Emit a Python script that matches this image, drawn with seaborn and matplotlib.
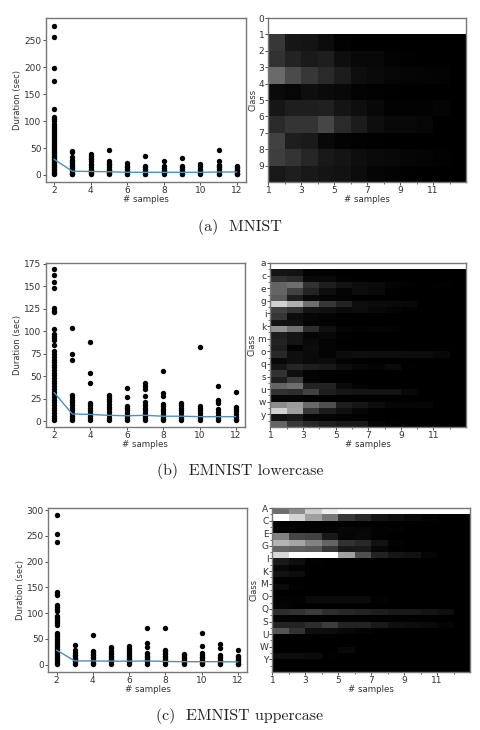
import matplotlib
matplotlib.use("Agg")
import matplotlib.pyplot as plt
import numpy as np
import pandas as pd
import seaborn as sns

SAMPLES = [2, 3, 4, 5, 6, 7, 8, 9, 10, 11, 12]

# ---- duration scatter values (sec), one list per "# samples" value
MNIST_DUR = [
    [277, 256, 198, 175, 123, 108, 104, 100, 95, 91, 87, 83, 80, 76, 72, 69, 65, 61, 58, 54, 51, 48, 45, 42, 39, 36, 33, 30, 27, 24, 21, 18, 15, 12, 9, 6, 3, 1],
    [44, 42, 33, 28, 25, 22, 19, 16, 13, 10, 7, 4, 2, 1],
    [38, 35, 32, 29, 25, 21, 18, 15, 12, 9, 6, 3, 1],
    [47, 25, 23, 21, 18, 15, 12, 9, 6, 3, 1],
    [22, 17, 14, 11, 8, 5, 2, 1],
    [35, 16, 14, 11, 8, 5, 2, 1],
    [26, 16, 13, 10, 7, 4, 1],
    [31, 17, 14, 11, 8, 5, 2, 1],
    [20, 17, 12, 9, 6, 3, 1],
    [46, 26, 19, 17, 14, 11, 8, 5, 2, 1],
    [17, 15, 13, 10, 7, 4, 2, 1],
]
MNIST_MEAN = [29, 7, 6.5, 6, 5, 5, 5, 5, 5, 5.5, 5.5]

LOWER_DUR = [
    [169, 163, 155, 148, 126, 123, 121, 102, 97, 95, 92, 90, 85, 78, 75, 71, 68, 66, 63, 60, 57, 54, 51, 48, 45, 42, 39, 36, 33, 30, 27, 24, 21, 18, 15, 12, 9, 6, 3, 1],
    [104, 75, 68, 29, 27, 24, 21, 18, 15, 12, 9, 6, 3, 1],
    [88, 54, 43, 20, 18, 15, 12, 9, 6, 3, 1],
    [29, 27, 25, 22, 19, 16, 13, 10, 7, 4, 1],
    [37, 27, 17, 15, 12, 9, 6, 3, 1],
    [42, 39, 36, 28, 21, 18, 15, 12, 9, 6, 3, 1],
    [56, 31, 28, 19, 17, 14, 11, 8, 5, 2, 1],
    [20, 18, 15, 12, 9, 6, 3, 1],
    [82, 17, 15, 12, 9, 6, 3, 1],
    [39, 24, 22, 20, 13, 10, 7, 4, 1],
    [32, 16, 14, 11, 8, 5, 2, 1],
]
LOWER_MEAN = [32, 8, 7.5, 6.5, 6, 6.5, 5.5, 5.5, 5, 5, 5]

UPPER_DUR = [
    [291, 254, 238, 140, 137, 135, 116, 112, 108, 104, 95, 92, 88, 84, 80, 76, 62, 58, 54, 50, 46, 42, 38, 34, 30, 26, 22, 18, 14, 10, 6, 3, 1],
    [38, 29, 22, 19, 16, 13, 10, 7, 4, 1],
    [57, 27, 24, 21, 18, 15, 12, 9, 6, 3, 1],
    [35, 32, 26, 23, 20, 17, 14, 11, 8, 5, 2],
    [36, 33, 28, 24, 20, 16, 13, 10, 7, 4, 1],
    [71, 41, 35, 23, 20, 17, 14, 11, 8, 5, 2],
    [70, 29, 26, 23, 20, 17, 14, 11, 8, 5, 2],
    [20, 18, 15, 12, 9, 6, 3, 1],
    [61, 36, 22, 18, 15, 12, 9, 6, 3, 1],
    [39, 33, 18, 15, 12, 9, 6, 3, 1],
    [28, 17, 14, 11, 8, 5, 2, 1],
]
UPPER_MEAN = [28, 7, 7, 6.5, 6.5, 7, 6, 5.5, 5.5, 5.5, 5]

# ---- heat map grey levels, rows = classes, columns = # samples
MNIST_HEAT = [
    [255] * 12,
    [55, 22, 20, 12, 2, 0, 0, 0, 0, 0, 0, 0],
    [50, 35, 26, 30, 14, 8, 8, 3, 1, 0, 0, 0],
    [105, 75, 55, 42, 28, 14, 10, 6, 5, 4, 3, 0],
    [10, 6, 14, 10, 8, 3, 2, 1, 0, 0, 0, 0],
    [22, 30, 30, 32, 20, 14, 8, 2, 2, 2, 4, 0],
    [42, 52, 52, 70, 42, 28, 14, 8, 8, 6, 0, 0],
    [65, 30, 26, 8, 3, 2, 1, 0, 0, 0, 0, 0],
    [62, 52, 38, 24, 20, 14, 10, 8, 5, 4, 2, 0],
    [24, 30, 24, 20, 18, 12, 5, 3, 1, 0, 0, 0],
]
LOWER_HEAT = [
    [255] * 12,
    [20, 18, 3, 2, 0, 0, 0, 0, 0, 0, 0, 0],
    [50, 42, 10, 8, 2, 0, 0, 0, 0, 0, 0, 0],
    [100, 110, 50, 30, 18, 12, 10, 4, 2, 0, 2, 0],
    [100, 65, 35, 14, 4, 12, 8, 1, 0, 0, 0, 0],
    [90, 30, 8, 5, 2, 1, 0, 0, 0, 0, 0, 0],
    [210, 175, 110, 55, 35, 14, 12, 10, 8, 0, 0, 0],
    [65, 50, 20, 16, 10, 12, 8, 4, 1, 0, 0, 0],
    [55, 12, 6, 4, 1, 0, 0, 0, 0, 0, 0, 0],
    [18, 16, 5, 3, 0, 0, 0, 0, 0, 0, 0, 0],
    [145, 115, 45, 16, 5, 3, 4, 3, 0, 0, 0, 0],
    [30, 20, 6, 8, 2, 0, 0, 0, 0, 0, 0, 0],
    [35, 20, 10, 3, 0, 0, 0, 0, 0, 0, 0, 0],
    [30, 2, 12, 4, 2, 0, 0, 0, 0, 0, 0, 0],
    [40, 14, 10, 3, 12, 14, 14, 14, 12, 12, 8, 0],
    [8, 15, 10, 12, 4, 1, 0, 0, 0, 0, 0, 0],
    [22, 38, 30, 25, 12, 8, 5, 10, 1, 0, 0, 0],
    [50, 14, 3, 1, 0, 0, 0, 0, 0, 0, 0, 0],
    [30, 60, 4, 2, 0, 0, 0, 0, 0, 0, 0, 0],
    [100, 110, 35, 35, 10, 2, 0, 0, 0, 0, 0, 0],
    [50, 45, 65, 30, 22, 20, 20, 20, 8, 0, 0, 0],
    [5, 5, 3, 1, 0, 0, 0, 0, 0, 0, 0, 0],
    [140, 155, 105, 80, 30, 22, 12, 6, 6, 5, 0, 0],
    [210, 160, 55, 28, 15, 5, 1, 0, 0, 0, 0, 0],
    [18, 25, 6, 5, 3, 0, 0, 0, 0, 0, 0, 0],
    [100, 55, 40, 30, 25, 25, 6, 1, 0, 0, 0, 0],
]
UPPER_HEAT = [
    [110, 140, 205, 240, 255, 255, 255, 255, 255, 255, 255, 255],
    [255, 210, 160, 120, 55, 40, 20, 14, 8, 4, 0, 0],
    [0, 0, 0, 0, 0, 0, 0, 0, 0, 0, 0, 0],
    [3, 2, 2, 2, 6, 6, 2, 2, 0, 0, 0, 0],
    [130, 70, 65, 25, 5, 8, 2, 0, 0, 0, 0, 0],
    [180, 165, 130, 100, 50, 40, 18, 3, 0, 0, 0, 0],
    [100, 95, 90, 55, 25, 25, 6, 1, 0, 0, 0, 0],
    [215, 255, 255, 255, 160, 80, 35, 22, 18, 5, 0, 0],
    [25, 14, 2, 0, 0, 0, 0, 0, 0, 0, 0, 0],
    [8, 3, 0, 0, 0, 0, 0, 0, 0, 0, 0, 0],
    [18, 12, 0, 0, 0, 0, 0, 0, 0, 0, 0, 0],
    [0, 0, 0, 0, 0, 0, 0, 0, 0, 0, 0, 0],
    [10, 2, 0, 0, 0, 0, 0, 0, 0, 0, 0, 0],
    [0, 0, 0, 0, 0, 0, 0, 0, 0, 0, 0, 0],
    [3, 2, 10, 10, 10, 10, 2, 0, 0, 0, 0, 0],
    [5, 1, 0, 0, 0, 0, 0, 0, 0, 0, 0, 0],
    [45, 50, 60, 45, 40, 35, 30, 25, 25, 20, 15, 0],
    [3, 1, 0, 0, 0, 0, 0, 0, 0, 0, 0, 0],
    [35, 35, 45, 60, 35, 35, 25, 15, 12, 10, 5, 0],
    [85, 50, 14, 12, 8, 4, 1, 0, 0, 0, 0, 0],
    [0, 0, 0, 0, 0, 0, 0, 0, 0, 0, 0, 0],
    [0, 0, 0, 0, 0, 0, 0, 0, 0, 0, 0, 0],
    [0, 0, 0, 0, 8, 0, 0, 0, 0, 0, 0, 0],
    [14, 14, 10, 1, 0, 0, 0, 0, 0, 0, 0, 0],
    [0, 0, 0, 0, 0, 0, 0, 0, 0, 0, 0, 0],
    [0, 0, 0, 0, 0, 0, 0, 0, 0, 0, 0, 0],
]

MNIST_CLASSES = list("0123456789")
LOWER_CLASSES = list("acegikmoqsuwy")
UPPER_CLASSES = list("ACEGIKMOQSUWY")
CAPTIONS = ["(a)  MNIST", "(b)  EMNIST lowercase", "(c)  EMNIST uppercase"]
SAMPLE_TICKS = [1, 3, 5, 7, 9, 11]

W, H = 481, 730
sns.set_theme(style="white")
plt.rcParams.update({"font.family": ["DejaVu Sans"], "text.color": "#333333",
                     "axes.labelcolor": "#333333", "xtick.color": "#333333",
                     "ytick.color": "#333333"})
fig = plt.figure(figsize=(W / 100, H / 100), dpi=100)


def axes_px(x0, y0, x1, y1):
    return fig.add_axes([x0 / W, 1 - y1 / H, (x1 - x0) / W, (y1 - y0) / H])


def style(ax):
    ax.tick_params(labelsize=6.5, length=2, width=0.6, pad=1, left=True, bottom=True)
    for s in ax.spines.values():
        s.set_visible(True)
        s.set_color("#777777")
        s.set_linewidth(1.0)


def scatter_panel(box, durations, means, ylim, yticks):
    ax = axes_px(*box)
    df = pd.DataFrame({
        "x": [x for x, d in zip(SAMPLES, durations) for _ in d],
        "y": [v for d in durations for v in d],
    })
    sns.scatterplot(data=df, x="x", y="y", color="black", s=15, linewidth=0, ax=ax)
    sns.lineplot(x=SAMPLES, y=means, color="#4f8fbf", lw=1.0, errorbar=None, ax=ax)
    ax.set_xlim(1.53, 12.5)
    ax.set_ylim(*ylim)
    ax.set_xticks([2, 4, 6, 8, 10, 12])
    ax.set_yticks(yticks)
    ax.set_xlabel("# samples", fontsize=6.2, labelpad=0)
    ax.set_ylabel("Duration (sec)", fontsize=6, labelpad=1.5)
    style(ax)
    return ax


def heat_panel(box, matrix, classes):
    ax = axes_px(*box)
    m = np.array(matrix, dtype=float)
    sns.heatmap(m, cmap="gray", vmin=0, vmax=255, cbar=False, ax=ax,
                xticklabels=False, yticklabels=False)
    step = 1 if len(classes) == m.shape[0] else 2
    ax.set_yticks(np.arange(len(classes)) * step)
    ax.set_yticklabels(classes, rotation=0)
    ax.set_yticks(np.arange(0, m.shape[0], 1), minor=True)
    ax.set_xticks([t - 1 for t in SAMPLE_TICKS])
    ax.set_xticklabels(SAMPLE_TICKS, rotation=0)
    ax.set_xticks(np.arange(0, m.shape[1], 1), minor=True)
    ax.set_xlabel("# samples", fontsize=6.2, labelpad=0)
    ax.set_ylabel("Class", fontsize=6, labelpad=1)
    style(ax)
    ax.tick_params(which="minor", length=1.5, width=0.5, left=True, bottom=True, color="#333333")
    return ax


scatter_panel((45.5, 18, 246, 182), MNIST_DUR, MNIST_MEAN, (-13, 291), [0, 50, 100, 150, 200, 250])
heat_panel((268.5, 18, 466, 182), MNIST_HEAT, MNIST_CLASSES)
scatter_panel((45.5, 263, 245, 427), LOWER_DUR, LOWER_MEAN, (-6.5, 176), [0, 25, 50, 75, 100, 125, 150, 175])
heat_panel((270.5, 263, 466, 427), LOWER_HEAT, LOWER_CLASSES)
scatter_panel((48, 508, 247, 672), UPPER_DUR, UPPER_MEAN, (-14.5, 304), [0, 50, 100, 150, 200, 250, 300])
heat_panel((272.5, 508, 470, 672), UPPER_HEAT, UPPER_CLASSES)

for text, yc, xc in zip(CAPTIONS, [227, 471, 716], [240, 240, 240]):
    fig.text(xc / W, 1 - yc / H, text, ha="center", va="center", fontsize=11.5,
             family=["cmr10", "DejaVu Serif"], color="#222222")

fig.savefig("out.png", dpi=100)
